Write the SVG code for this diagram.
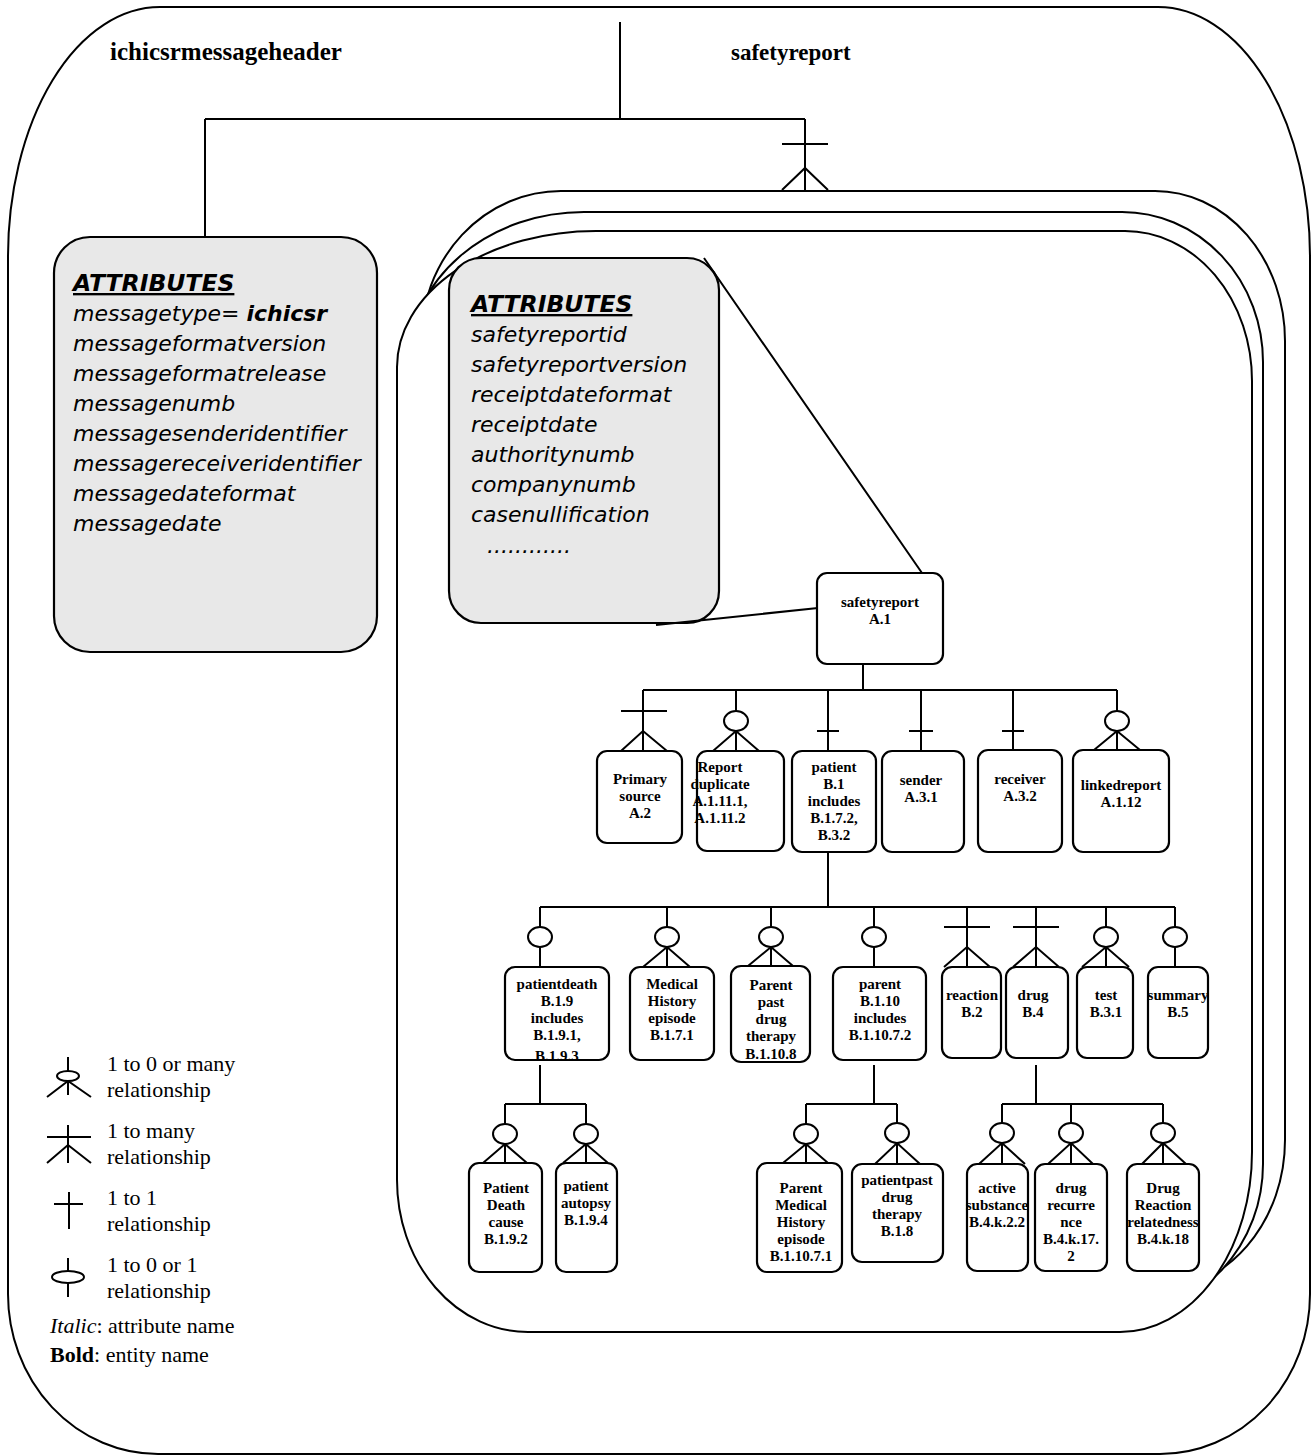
<svg xmlns="http://www.w3.org/2000/svg" width="1312" height="1456" viewBox="0 0 1312 1456">
  <style>
    .frame { fill: #ffffff; stroke: #000; stroke-width: 2; }
    .attrbox { fill: #e8e8e8; stroke: #000; stroke-width: 2.2; }
    .box { fill: #ffffff; stroke: #000; stroke-width: 2.2; }
    .conn { fill: none; stroke: #000; stroke-width: 2; }
    .opt { fill: #ffffff; stroke: #000; stroke-width: 2; }
    .lbl { font-family: "Liberation Serif", "Times New Roman", serif; font-weight: bold; font-size: 15px; text-anchor: middle; fill: #000; }
    .title { font-family: "Liberation Serif", "Times New Roman", serif; font-weight: bold; fill: #000; }
    .attr { font-family: "DejaVu Sans", Verdana, sans-serif; font-style: italic; font-size: 22px; fill: #000; }
    .attrhead { font-family: "DejaVu Sans", Verdana, sans-serif; font-style: italic; font-weight: bold; font-size: 23.5px; text-decoration: underline; fill: #000; }
    .legend { font-family: "Liberation Serif", "Times New Roman", serif; font-size: 22px; fill: #000; }
  </style>

  <!-- outer message frame -->
  <path class="frame" d="M160,7 H1158 A152,250 0 0 1 1310,257 V1294 A150,160 0 0 1 1160,1454 H158 A150,160 0 0 1 8,1294 V257 A152,250 0 0 1 160,7 Z"/>

  <!-- ichicsrmessageheader entity with its attributes -->
  <g id="n-messageheader">
    <text class="title" x="110" y="60" font-size="25">ichicsrmessageheader</text>
    <rect class="attrbox" x="54" y="237" width="323" height="415" rx="36" ry="36"/>
    <text class="attrhead" x="73" y="291">ATTRIBUTES</text>
    <text class="attr" x="73" y="321">messagetype= <tspan font-weight="bold">ichicsr</tspan></text>
    <text class="attr" x="73" y="351">messageformatversion</text>
    <text class="attr" x="73" y="381">messageformatrelease</text>
    <text class="attr" x="73" y="411">messagenumb</text>
    <text class="attr" x="73" y="441">messagesenderidentifier</text>
    <text class="attr" x="73" y="471">messagereceiveridentifier</text>
    <text class="attr" x="73" y="501">messagedateformat</text>
    <text class="attr" x="73" y="531">messagedate</text>
  </g>

  <!-- safetyreport entity: stacked frames for repeated reports -->
  <g id="n-safetyreport-set">
    <text class="title" x="731" y="60" font-size="23">safetyreport</text>
    <path class="frame" d="M561,191 H1155 A130,150 0 0 1 1285,341 V1140 A130,150 0 0 1 1155,1290 H561 A140,150 0 0 1 421,1140 V341 A140,150 0 0 1 561,191 Z"/>
    <path class="frame" d="M584,212 H1122 A141,150 0 0 1 1263,362 V1164 A141,150 0 0 1 1122,1314 H584 A175,150 0 0 1 409,1164 V362 A175,150 0 0 1 584,212 Z"/>
    <path class="frame" d="M596,231 H1125 A127,150 0 0 1 1252,381 V1152 A132,180 0 0 1 1120,1332 H528 A131,152 0 0 1 397,1180 V367 A199,136 0 0 1 596,231 Z"/>
    <rect class="attrbox" x="449" y="258" width="270" height="365" rx="32" ry="32"/>
    <text class="attrhead" x="471" y="312">ATTRIBUTES</text>
    <text class="attr" x="471" y="342">safetyreportid</text>
    <text class="attr" x="471" y="372">safetyreportversion</text>
    <text class="attr" x="471" y="402">receiptdateformat</text>
    <text class="attr" x="471" y="432">receiptdate</text>
    <text class="attr" x="471" y="462">authoritynumb</text>
    <text class="attr" x="471" y="492">companynumb</text>
    <text class="attr" x="471" y="522">casenullification</text>
    <text class="attr" x="487" y="553">............</text>
  </g>

  <!-- connectors and cardinality marks -->
  <g id="connectors" class="conn">
    <path d="M620,22 V119 M205,119 H805 M205,119 V237 M805,119 V190 M782,144 H828 M782,190 L805,168 L828,190"/>
    <path d="M704,258 L922,573 M656,625 L818,608"/>

    <!-- safetyreport children -->
    <path d="M863,664 V690 M643,690 H1117"/>
    <path d="M643,690 V751 M621,711 H667 M621,751 L643,731 L667,751"/>
    <path d="M736,690 V711 M736,731 V751 M713,751 L736,731 L759,751"/>
    <ellipse class="opt" cx="736" cy="721" rx="12" ry="10"/>
    <path d="M828,690 V751 M817,731 H839"/>
    <path d="M921,690 V751 M909,731 H933"/>
    <path d="M1013,690 V750 M1002,731 H1024"/>
    <path d="M1117,690 V711 M1117,731 V750 M1094,750 L1117,731 L1140,750"/>
    <ellipse class="opt" cx="1117" cy="721" rx="12" ry="10"/>

    <!-- patient children -->
    <path d="M828,852 V907 M540,907 H1175"/>
    <path d="M540,907 V927 M540,947 V967"/>
    <ellipse class="opt" cx="540" cy="937" rx="12" ry="10"/>
    <path d="M667,907 V927 M667,947 V967 M643,967 L667,947 L690,967"/>
    <ellipse class="opt" cx="667" cy="937" rx="12" ry="10"/>
    <path d="M771,907 V927 M771,947 V966 M748,966 L771,947 L793,966"/>
    <ellipse class="opt" cx="771" cy="937" rx="12" ry="10"/>
    <path d="M874,907 V927 M874,947 V967"/>
    <ellipse class="opt" cx="874" cy="937" rx="12" ry="10"/>
    <path d="M967,907 V967 M944,927 H990 M944,967 L967,947 L990,967"/>
    <path d="M1036,907 V967 M1013,927 H1059 M1013,967 L1036,947 L1059,967"/>
    <path d="M1106,907 V927 M1106,947 V967 M1082,967 L1106,947 L1129,967"/>
    <ellipse class="opt" cx="1106" cy="937" rx="12" ry="10"/>
    <path d="M1175,907 V927 M1175,947 V967"/>
    <ellipse class="opt" cx="1175" cy="937" rx="12" ry="10"/>

    <!-- patientdeath children -->
    <path d="M540,1065 V1104 M505,1104 H586"/>
    <path d="M505,1104 V1124 M505,1144 V1163 M483,1163 L505,1144 L527,1163"/>
    <ellipse class="opt" cx="505" cy="1134" rx="12" ry="10"/>
    <path d="M586,1104 V1124 M586,1144 V1163 M563,1163 L586,1144 L608,1163"/>
    <ellipse class="opt" cx="586" cy="1134" rx="12" ry="10"/>

    <!-- parent children -->
    <path d="M874,1065 V1104 M806,1104 H897"/>
    <path d="M806,1104 V1124 M806,1144 V1163 M783,1163 L806,1144 L828,1163"/>
    <ellipse class="opt" cx="806" cy="1134" rx="12" ry="10"/>
    <path d="M897,1104 V1123 M897,1143 V1164 M875,1164 L897,1143 L920,1164"/>
    <ellipse class="opt" cx="897" cy="1133" rx="12" ry="10"/>

    <!-- drug children -->
    <path d="M1036,1065 V1104 M1002,1104 H1163"/>
    <path d="M1002,1104 V1123 M1002,1143 V1164 M979,1164 L1002,1143 L1025,1164"/>
    <ellipse class="opt" cx="1002" cy="1133" rx="12" ry="10"/>
    <path d="M1071,1104 V1123 M1071,1143 V1164 M1048,1164 L1071,1143 L1093,1164"/>
    <ellipse class="opt" cx="1071" cy="1133" rx="12" ry="10"/>
    <path d="M1163,1104 V1123 M1163,1143 V1164 M1142,1164 L1163,1143 L1186,1164"/>
    <ellipse class="opt" cx="1163" cy="1133" rx="12" ry="10"/>
  </g>

  <!-- entity boxes -->
  <g id="n-safetyreport">
    <rect class="box" x="817" y="573" width="126" height="91" rx="10"/>
    <text class="lbl"><tspan x="880" y="607">safetyreport</tspan><tspan x="880" y="624">A.1</tspan></text>
  </g>
  <g id="n-primarysource">
    <rect class="box" x="597" y="751" width="85" height="92" rx="10"/>
    <text class="lbl"><tspan x="640" y="784">Primary</tspan><tspan x="640" y="801">source</tspan><tspan x="640" y="818">A.2</tspan></text>
  </g>
  <g id="n-reportduplicate">
    <rect class="box" x="697" y="751" width="87" height="100" rx="10"/>
    <text class="lbl"><tspan x="720" y="772">Report</tspan><tspan x="720" y="789">duplicate</tspan><tspan x="720" y="806">A.1.11.1,</tspan><tspan x="720" y="823">A.1.11.2</tspan></text>
  </g>
  <g id="n-patient">
    <rect class="box" x="792" y="751" width="84" height="101" rx="10"/>
    <text class="lbl"><tspan x="834" y="772">patient</tspan><tspan x="834" y="789">B.1</tspan><tspan x="834" y="806">includes</tspan><tspan x="834" y="823">B.1.7.2,</tspan><tspan x="834" y="840">B.3.2</tspan></text>
  </g>
  <g id="n-sender">
    <rect class="box" x="882" y="751" width="82" height="101" rx="10"/>
    <text class="lbl"><tspan x="921" y="785">sender</tspan><tspan x="921" y="802">A.3.1</tspan></text>
  </g>
  <g id="n-receiver">
    <rect class="box" x="978" y="750" width="84" height="102" rx="10"/>
    <text class="lbl"><tspan x="1020" y="784">receiver</tspan><tspan x="1020" y="801">A.3.2</tspan></text>
  </g>
  <g id="n-linkedreport">
    <rect class="box" x="1073" y="750" width="96" height="102" rx="10"/>
    <text class="lbl"><tspan x="1121" y="790">linkedreport</tspan><tspan x="1121" y="807">A.1.12</tspan></text>
  </g>
  <g id="n-patientdeath">
    <rect class="box" x="505" y="967" width="104" height="93" rx="10"/>
    <text class="lbl"><tspan x="557" y="989">patientdeath</tspan><tspan x="557" y="1006">B.1.9</tspan><tspan x="557" y="1023">includes</tspan><tspan x="557" y="1040">B.1.9.1,</tspan><tspan x="557" y="1061">B.1.9.3</tspan></text>
  </g>
  <g id="n-medicalhistory">
    <rect class="box" x="630" y="967" width="84" height="93" rx="10"/>
    <text class="lbl"><tspan x="672" y="989">Medical</tspan><tspan x="672" y="1006">History</tspan><tspan x="672" y="1023">episode</tspan><tspan x="672" y="1040">B.1.7.1</tspan></text>
  </g>
  <g id="n-parentpastdrug">
    <rect class="box" x="731" y="966" width="79" height="96" rx="10"/>
    <text class="lbl"><tspan x="771" y="990">Parent</tspan><tspan x="771" y="1007">past</tspan><tspan x="771" y="1024">drug</tspan><tspan x="771" y="1041">therapy</tspan><tspan x="771" y="1059">B.1.10.8</tspan></text>
  </g>
  <g id="n-parent">
    <rect class="box" x="833" y="967" width="93" height="93" rx="10"/>
    <text class="lbl"><tspan x="880" y="989">parent</tspan><tspan x="880" y="1006">B.1.10</tspan><tspan x="880" y="1023">includes</tspan><tspan x="880" y="1040">B.1.10.7.2</tspan></text>
  </g>
  <g id="n-reaction">
    <rect class="box" x="942" y="967" width="59" height="91" rx="10"/>
    <text class="lbl"><tspan x="972" y="1000">reaction</tspan><tspan x="972" y="1017">B.2</tspan></text>
  </g>
  <g id="n-drug">
    <rect class="box" x="1006" y="967" width="62" height="91" rx="10"/>
    <text class="lbl"><tspan x="1033" y="1000">drug</tspan><tspan x="1033" y="1017">B.4</tspan></text>
  </g>
  <g id="n-test">
    <rect class="box" x="1077" y="967" width="56" height="91" rx="10"/>
    <text class="lbl"><tspan x="1106" y="1000">test</tspan><tspan x="1106" y="1017">B.3.1</tspan></text>
  </g>
  <g id="n-summary">
    <rect class="box" x="1148" y="967" width="60" height="91" rx="10"/>
    <text class="lbl"><tspan x="1178" y="1000">summary</tspan><tspan x="1178" y="1017">B.5</tspan></text>
  </g>
  <g id="n-patientdeathcause">
    <rect class="box" x="469" y="1163" width="73" height="109" rx="10"/>
    <text class="lbl"><tspan x="506" y="1193">Patient</tspan><tspan x="506" y="1210">Death</tspan><tspan x="506" y="1227">cause</tspan><tspan x="506" y="1244">B.1.9.2</tspan></text>
  </g>
  <g id="n-patientautopsy">
    <rect class="box" x="556" y="1163" width="61" height="109" rx="10"/>
    <text class="lbl"><tspan x="586" y="1191">patient</tspan><tspan x="586" y="1208">autopsy</tspan><tspan x="586" y="1225">B.1.9.4</tspan></text>
  </g>
  <g id="n-parentmedicalhistory">
    <rect class="box" x="757" y="1163" width="85" height="109" rx="10"/>
    <text class="lbl"><tspan x="801" y="1193">Parent</tspan><tspan x="801" y="1210">Medical</tspan><tspan x="801" y="1227">History</tspan><tspan x="801" y="1244">episode</tspan><tspan x="801" y="1261">B.1.10.7.1</tspan></text>
  </g>
  <g id="n-patientpastdrug">
    <rect class="box" x="852" y="1164" width="91" height="98" rx="10"/>
    <text class="lbl"><tspan x="897" y="1185">patientpast</tspan><tspan x="897" y="1202">drug</tspan><tspan x="897" y="1219">therapy</tspan><tspan x="897" y="1236">B.1.8</tspan></text>
  </g>
  <g id="n-activesubstance">
    <rect class="box" x="967" y="1164" width="61" height="107" rx="10"/>
    <text class="lbl"><tspan x="997" y="1193">active</tspan><tspan x="997" y="1210">substance</tspan><tspan x="997" y="1227">B.4.k.2.2</tspan></text>
  </g>
  <g id="n-drugrecurrence">
    <rect class="box" x="1035" y="1164" width="72" height="107" rx="10"/>
    <text class="lbl"><tspan x="1071" y="1193">drug</tspan><tspan x="1071" y="1210">recurre</tspan><tspan x="1071" y="1227">nce</tspan><tspan x="1071" y="1244">B.4.k.17.</tspan><tspan x="1071" y="1261">2</tspan></text>
  </g>
  <g id="n-drugreaction">
    <rect class="box" x="1127" y="1164" width="72" height="107" rx="10"/>
    <text class="lbl"><tspan x="1163" y="1193">Drug</tspan><tspan x="1163" y="1210">Reaction</tspan><tspan x="1163" y="1227">relatedness</tspan><tspan x="1163" y="1244">B.4.k.18</tspan></text>
  </g>

  <!-- legend -->
  <g id="legend">
    <path class="conn" d="M68,1057 V1071 M68,1081 V1095 M47,1097 L68,1081 L91,1097"/>
    <ellipse class="opt" cx="68" cy="1076" rx="11" ry="5"/>
    <text class="legend"><tspan x="107" y="1071">1 to 0 or many</tspan><tspan x="107" y="1097">relationship</tspan></text>

    <path class="conn" d="M47,1137 H91 M68,1125 V1163 M47,1163 L68,1145 L91,1163"/>
    <text class="legend"><tspan x="107" y="1138">1 to many</tspan><tspan x="107" y="1164">relationship</tspan></text>

    <path class="conn" d="M54,1204 H83 M69,1192 V1229"/>
    <text class="legend"><tspan x="107" y="1205">1 to 1</tspan><tspan x="107" y="1231">relationship</tspan></text>

    <path class="conn" d="M68,1258 V1297"/>
    <ellipse class="opt" cx="68" cy="1277" rx="16" ry="6"/>
    <text class="legend"><tspan x="107" y="1272">1 to 0 or 1</tspan><tspan x="107" y="1298">relationship</tspan></text>

    <text class="legend" x="50" y="1333"><tspan font-style="italic">Italic</tspan>: attribute name</text>
    <text class="legend" x="50" y="1362"><tspan font-weight="bold">Bold</tspan>: entity name</text>
  </g>
</svg>
